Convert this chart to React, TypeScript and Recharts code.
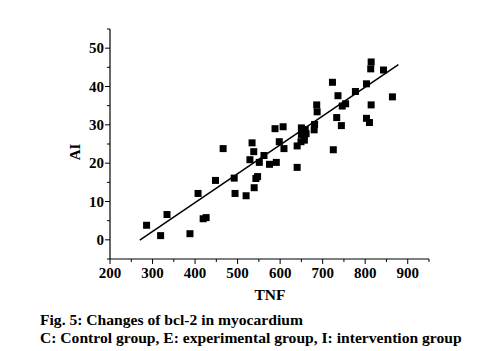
import React from 'react';
import { ComposedChart, Scatter, XAxis, YAxis, ReferenceLine } from 'recharts';

const tnfValues = [
  286, 319, 334, 388, 407, 419, 426, 448, 466, 492, 494, 520, 529, 534, 538, 539, 543, 547,
  551, 562, 575, 588, 591, 598, 607, 609, 640, 640, 650, 659, 661, 650, 657, 649, 681, 680,
  686, 687, 723, 725, 733, 736, 744, 746, 754, 777, 803, 803, 810, 814, 813, 814, 843, 864,
];
const aiValues = [
  3.8, 1.1, 6.6, 1.6, 12.1, 5.5, 5.8, 15.5, 23.8, 16.1, 12.1, 11.5, 20.9, 25.3, 23.0, 13.6, 16.0, 16.5,
  20.2, 22.0, 19.7, 29.0, 20.2, 25.6, 29.5, 23.8, 24.5, 18.9, 29.2, 28.8, 27.7, 27.5, 26.0, 25.6, 30.1, 28.7,
  35.2, 33.4, 41.1, 23.5, 31.9, 37.6, 29.8, 34.9, 35.5, 38.7, 40.7, 31.7, 30.6, 35.2, 44.6, 46.4, 44.3, 37.3,
];
const fitX = [270, 878];
const fitY = [-0.1, 45.7];

const xTicks = [200, 250, 300, 350, 400, 450, 500, 550, 600, 650, 700, 750, 800, 850, 900, 950];
const yTicks = [-5, 0, 5, 10, 15, 20, 25, 30, 35, 40, 45, 50, 55];
const xMajor = [200, 300, 400, 500, 600, 700, 800, 900];
const yMajor = [0, 10, 20, 30, 40, 50];

const points = tnfValues.map((x, i) => ({ x, y: aiValues[i] }));

const FONT = '"Liberation Serif", "Times New Roman", serif';

const XTick = (props: any) => {
  const { x, y, payload } = props;
  const major = xMajor.includes(payload.value);
  return (
    <g>
      <line x1={x} x2={x} y1={y} y2={y + (major ? 5 : 3)} stroke="#000" strokeWidth={1} />
      {major && (
        <text x={x} y={y + 19} textAnchor="middle" fontFamily={FONT} fontWeight="bold" fontSize={15} fill="#000">
          {payload.value}
        </text>
      )}
    </g>
  );
};

const YTick = (props: any) => {
  const { x, y, payload } = props;
  const major = yMajor.includes(payload.value);
  return (
    <g>
      <line x1={x} x2={x - (major ? 5 : 3)} y1={y} y2={y} stroke="#000" strokeWidth={1} />
      {major && (
        <text x={x - 6} y={y + 5} textAnchor="end" fontFamily={FONT} fontWeight="bold" fontSize={15} fill="#000">
          {payload.value}
        </text>
      )}
    </g>
  );
};

const SquareShape = (props: any) => {
  const { cx, cy } = props;
  if (cx == null || cy == null) return null;
  return <rect x={cx - 3.5} y={cy - 3.5} width={7} height={7} fill="#000" />;
};

export default function App() {
  return (
    <div style={{ position: 'absolute', left: 0, top: 0, width: 488, height: 351, background: '#fff', fontFamily: FONT }}>
      <ComposedChart width={488} height={351} margin={{ top: 29, right: 59, left: 0, bottom: 62 }}>
        <XAxis
          type="number"
          dataKey="x"
          domain={[200, 950]}
          ticks={xTicks}
          interval={0}
          allowDataOverflow
          tickSize={0}
          tickMargin={0}
          tickLine={false}
          tick={<XTick />}
          axisLine={{ stroke: '#000', strokeWidth: 1.2 }}
          height={30}
        />
        <YAxis
          type="number"
          dataKey="y"
          domain={[-5, 55]}
          ticks={yTicks}
          interval={0}
          allowDataOverflow
          tickSize={0}
          tickMargin={0}
          tickLine={false}
          tick={<YTick />}
          axisLine={{ stroke: '#000', strokeWidth: 1.2 }}
          width={110}
        />
        <ReferenceLine
          segment={[{ x: fitX[0], y: fitY[0] }, { x: fitX[1], y: fitY[1] }]}
          stroke="#000"
          strokeWidth={1.5}
          ifOverflow="visible"
        />
        <Scatter data={points} shape={<SquareShape />} isAnimationActive={false} />
      </ComposedChart>
      <div style={{ position: 'absolute', left: 250, top: 286, width: 40, textAlign: 'center', fontWeight: 'bold', fontSize: 15.5, lineHeight: '18px' }}>TNF</div>
      <div style={{ position: 'absolute', left: 60, top: 143, width: 30, textAlign: 'center', fontWeight: 'bold', fontSize: 15, lineHeight: '18px', transform: 'rotate(-90deg)' }}>AI</div>
      <div style={{ position: 'absolute', left: 40, top: 311, fontWeight: 'bold', fontSize: 15.6, lineHeight: '18px', whiteSpace: 'nowrap' }}>
        Fig. 5: Changes of bcl-2 in myocardium
        <br />
        C: Control group, E: experimental group, I: intervention group
      </div>
    </div>
  );
}
